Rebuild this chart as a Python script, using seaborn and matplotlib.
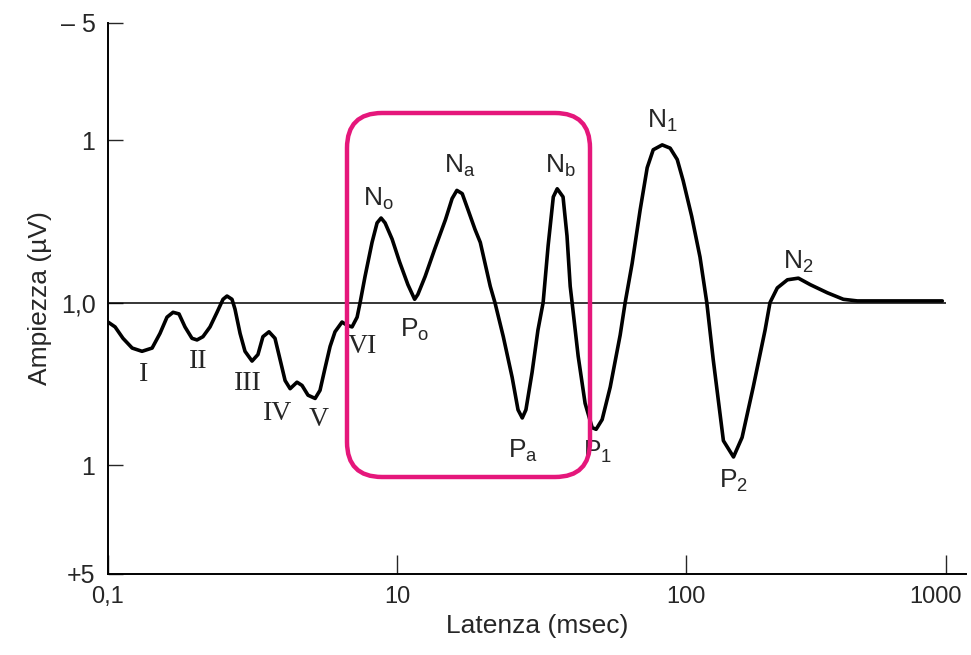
import numpy as np
import pandas as pd
import matplotlib
matplotlib.use("Agg")
import matplotlib.pyplot as plt
import matplotlib.transforms as mtransforms
import seaborn as sns
from matplotlib import font_manager
from matplotlib.patches import FancyBboxPatch

# waveform: latency (msec) and amplitude (positive = downwards)
latency_ms = [0.100, 0.112, 0.127, 0.147, 0.172, 0.202, 0.229, 0.256, 0.282, 0.310,
              0.341, 0.381, 0.413, 0.454, 0.508, 0.568, 0.625, 0.666, 0.721, 0.756,
              0.820, 0.887, 0.992, 1.09, 1.18, 1.30, 1.43, 1.55, 1.68, 1.82,
              2.03, 2.20, 2.42, 2.71, 2.93, 3.18, 3.44, 3.72, 4.16, 4.51,
              4.88, 5.29, 5.55, 6.00, 6.71, 7.27, 7.75, 8.26, 9.24, 10.2,
              10.9, 11.5, 11.8, 12.5, 13.5, 14.7, 15.5, 16.1, 16.8, 17.6,
              18.6, 19.4, 21.0, 21.8, 23.3, 25.0, 26.2, 27.1, 27.9, 29.3,
              30.7, 32.0, 33.3, 34.7, 35.8, 37.5, 38.7, 39.7, 40.3, 42.3,
              44.7, 47.3, 48.8, 51.2, 54.6, 59.1, 61.5, 65.0, 69.3, 73.3,
              76.9, 82.6, 88.0, 93.1, 97.6, 105, 113, 120, 127, 139,
              152, 164, 181, 201, 210, 224, 245, 270, 300, 349,
              402, 455, 572, 774, 965]
amplitude = [0.12, 0.15, 0.22, 0.28, 0.30, 0.28, 0.19, 0.09, 0.06, 0.07,
             0.15, 0.22, 0.23, 0.21, 0.15, 0.06, -0.02, -0.04, -0.02, 0.04,
             0.19, 0.30, 0.36, 0.32, 0.21, 0.18, 0.22, 0.35, 0.48, 0.53,
             0.49, 0.51, 0.57, 0.59, 0.54, 0.40, 0.27, 0.18, 0.12, 0.14,
             0.15, 0.09, 0.00, -0.16, -0.37, -0.49, -0.52, -0.49, -0.39, -0.25,
             -0.11, -0.02, -0.05, -0.16, -0.33, -0.51, -0.64, -0.69, -0.67, -0.57,
             -0.45, -0.37, -0.10, 0.00, 0.21, 0.46, 0.66, 0.71, 0.66, 0.43,
             0.17, 0.00, -0.35, -0.65, -0.70, -0.65, -0.41, -0.10, 0.00, 0.33,
             0.62, 0.77, 0.78, 0.72, 0.52, 0.20, 0.00, -0.24, -0.57, -0.83,
             -0.94, -0.97, -0.95, -0.88, -0.75, -0.53, -0.28, 0.00, 0.35, 0.85,
             0.95, 0.83, 0.52, 0.17, 0.00, -0.09, -0.14, -0.15, -0.11, -0.06,
             -0.02, -0.01, -0.01, -0.01, -0.01]

# wave labels
roman_labels = ["I", "II", "III", "IV", "V", "VI"]
roman_x = [0.175, 0.42, 0.93, 1.50, 2.88, 5.72]
roman_y = [0.44, 0.36, 0.50, 0.68, 0.72, 0.27]

peak_labels = ["N_o", "P_o", "N_a", "N_b", "P_a", "P_1", "N_1", "P_2", "N_2"]
peak_x = [7.39, 11.5, 16.5, 36.6, 27.3, 49.2, 82.6, 152, 270]
peak_y = [-0.64, 0.17, -0.84, -0.84, 0.91, 0.92, -1.12, 1.10, -0.25]

x_ticks = [0.1, 10, 100, 1000]
x_ticklabels = ["0,1", "10", "100", "1000"]
y_ticks = [-1.72, -1, 0, 1, 1.67]
y_ticklabels = ["\u2013 5", "1", "1,0", "1", "+5"]

sns.set_style("ticks")
names = {f.name for f in font_manager.fontManager.ttflist}
sans = "Liberation Sans Narrow" if "Liberation Sans Narrow" in names else "Liberation Sans"
plt.rcParams["font.family"] = [sans, "DejaVu Sans"]
plt.rcParams["mathtext.default"] = "regular"

fig = plt.figure(figsize=(9.71, 6.55), dpi=100)
ax = fig.add_axes([0.1112, 0.1237, 0.9948 - 0.1112, 0.9649 - 0.1237])

df = pd.DataFrame({"Latenza": latency_ms, "Ampiezza": amplitude})
sns.lineplot(data=df, x="Latenza", y="Ampiezza", sort=False, estimator=None,
             color="black", linewidth=2.6, ax=ax)
for line in ax.lines:
    line.set_solid_joinstyle("round")
    line.set_solid_capstyle("round")

ax.hlines(0, x_ticks[0], x_ticks[-1], color="black", linewidth=1.1, zorder=1)

# the decades on the original axis are not evenly spaced
log_pts = [-3, -1, 1, 2, 3, 4]
pos_pts = [-578, 0, 289, 578, 838, 1098]

def fwd(x):
    x = np.clip(np.asarray(x, dtype=float), 1e-6, None)
    return np.interp(np.log10(x), log_pts, pos_pts)

def inv(p):
    return 10 ** np.interp(p, pos_pts, log_pts)

ax.set_xscale("function", functions=(fwd, inv))
ax.set_xlim(0.1, 1190)
ax.set_ylim(1.67, -1.72)

ax.set_xticks(x_ticks)
ax.set_xticklabels(x_ticklabels)
ax.set_yticks(y_ticks)
ax.set_yticklabels(y_ticklabels)
ax.minorticks_off()
ax.tick_params(axis="x", direction="in", length=14, width=1, pad=9, labelsize=17)
ax.tick_params(axis="y", direction="in", length=11, width=1, pad=9, labelsize=18)

# keep the last x label inside the picture
last = ax.get_xticklabels()[-1]
last.set_transform(last.get_transform() +
                   mtransforms.ScaledTranslation(-8 / 72, 0, fig.dpi_scale_trans))

sns.despine(ax=ax)
for side in ["left", "bottom"]:
    ax.spines[side].set_linewidth(1.4)
    ax.spines[side].set_color("black")

ax.set_xlabel("Latenza (msec)", fontsize=19, labelpad=4)
ax.set_ylabel("Ampiezza (\u00b5V)", fontsize=19, labelpad=6)

for lab, x, y in zip(roman_labels, roman_x, roman_y):
    ax.text(x, y, lab, ha="center", va="center", fontsize=20,
            family=["Liberation Serif", "DejaVu Serif"])
for lab, x, y in zip(peak_labels, peak_x, peak_y):
    ax.text(x, y, "$" + lab + "$", ha="center", va="center", fontsize=19)

box = FancyBboxPatch((3.47, 1.78), 2.43, 3.64, boxstyle="round,pad=0,rounding_size=0.35",
                     transform=fig.dpi_scale_trans, fill=False,
                     edgecolor="#e5177b", linewidth=3.2, clip_on=False)
fig.patches.append(box)

fig.savefig("out.png", dpi=100)
